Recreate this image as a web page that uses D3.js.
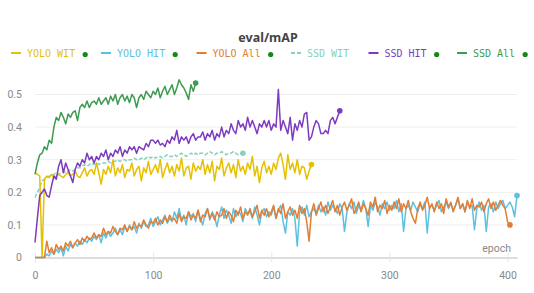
<!DOCTYPE html>
<html>
<head>
<meta charset="utf-8">
<script src="https://cdn.jsdelivr.net/npm/d3@7"></script>
<style>
  html, body { margin: 0; padding: 0; background: #fff; }
  svg { display: block; }
</style>
</head>
<body>
<svg id="chart" width="534" height="293"></svg>
<script>
// ---- data (mAP in percent, one value every EPOCH_STEP epochs starting at epoch 0) ----
const EPOCH_STEP = 2;
const seriesNames = ["YOLO WIT", "YOLO HIT", "YOLO All", "SSD WIT", "SSD HIT", "SSD All"];
const xTickValues = [0, 100, 200, 300, 400];
const yTickValues = [0, 0.1, 0.2, 0.3, 0.4, 0.5];
const yTickLabels = ["0", "0.1", "0.2", "0.3", "0.4", "0.5"];

const yoloWit = [
  26,25.5,25,0,24,25,24.5,25.5,24.5,25,
  25.5,25,24.5,25.5,26,25,25.5,26.5,25,24.5,
  26,27.5,25,26.5,27,25.5,29,26,22.5,27,
  25.5,28,26,30,25,27.5,26,28.5,24.5,27,
  26.5,29,25,27,28,23.5,27.5,26,29.5,25.5,
  27,28.5,26,30,24.5,27,29,26,28,25,
  28.5,26.5,30.5,25,27.5,28,24,29,26.5,28,
  27,30,25.5,28.5,26,29.5,23.5,28,27,30.5,
  25,27.5,29,26,28.5,24.5,30,26.5,28,25.5,
  29,27,31,25,28,23,27.5,29.5,26,28,
  25.5,29,27,30.5,32,28.5,24,31.5,27,29,
  26,30,25.5,28,27.5,24,26.5,28.5
];
const yoloHit = [
  0,0,0,0,0,1,0.5,2,1,2.5,
  1.5,3,0.5,3.5,2,4,3,4.5,3.5,5,
  4,5.5,4.5,6,5,6.5,5.5,7,4.5,7.5,
  6,8,6.5,7.5,9,7,8.5,7,9.5,8,
  10,8.5,9.5,7.5,10.5,9,11,9.5,10,12,
  9.5,11,12.5,10,11.5,13,10.5,12,11,14,
  12,15,11.5,13,10,14,12.5,13.5,11,14.5,
  12,10,13.5,15,11.5,14,12.5,9.5,13,15.5,
  12,14.5,13,10.5,15,12.5,14,13.5,11,15,
  13.5,14,12,15.5,13,10,14,15,12.5,14,
  13,15.5,12,14.5,16,11,7.5,14,13,15,
  12,3.5,14,15.5,13,16,12.5,14,15,13.5,
  16,14,15.5,13,17,14.5,16,15,13.5,16.5,
  15,8,14,16.5,15,17,13.5,16,14.5,17.5,
  15,9.5,16,14.5,17,15.5,13,16.5,15,17,
  14.5,16,15,17.5,14,16.5,8,15,16,14.5,
  17,15.5,14,16.5,15,17,7.5,15.5,16,14.5,
  16,17.5,14,15.5,17,15,16.5,14.5,16,18,
  15,16.5,14,17,15.5,16,8.5,15,17,14.5,
  16,8,15.5,16.5,14,17,15,16.5,17.5,15,
  16,17,15.5,12.5,19
];
const yoloAll = [
  0,0,0,0,0,5,1.5,3,1,4,
  2.5,3.5,2,4.5,3.5,5,3,4.5,5.5,4,
  6,5,6.5,5.5,6,7.5,6,7,6.5,9,
  7,8,7.5,9.5,8,7,9,8.5,10,8,
  9.5,8.5,11,9,10,9.5,11.5,10,9,11,
  10.5,12,10,11.5,10.5,12.5,11,13,11.5,12,
  10.5,13.5,11,12.5,12,14,11.5,13,12,14.5,
  11,13,12.5,15,12,13.5,11.5,14,12.5,13,
  15,12,14,13,11,14.5,13,15.5,12,14,
  13,15,12.5,14,16,12,14.5,13,15,12.5,
  14,16,12,15,13.5,16.5,12,14,15.5,13,
  14.5,12,16,13.5,15,11,5,14,16.5,13,
  15,17,14,16,13.5,15.5,17.5,14,16,13,
  15.5,17,14.5,16,18,13.5,15,17,14,16.5,
  15,13,17,15.5,18.5,14,16,15,17.5,13.5,
  16,14.5,17,15,18,14,16.5,15,17.5,14,
  12,10.5,15,17,14.5,16,18.5,15,16.5,14,
  17,15,16.5,13.5,18,15.5,17,14,16,18.5,
  15,16.5,14,17.5,15,18,14.5,16,15.5,17,
  14,16.5,18,15,17,14.5,16,17.5,16,15,
  11,10
];
const ssdWit = [
  18.4,20,21.5,23.5,24,24.5,25,25,25.5,26,
  25.5,26,26.5,26,26.5,27,26.5,27,27.5,27.5,
  28,28.5,28,28.5,29,28.5,29,28.5,29,29,
  29,29.5,29,29.5,29.5,30,29.5,30,30,29.5,
  30,30,30.5,30,30,30.5,30,30.5,31,30.5,
  31,30.5,31,31,30.5,31,31.5,31,31,31.5,
  31,31.5,32,31.5,31,31.5,32,31.5,32,31.5,
  32,32,31.5,32,32.5,32,31.5,32,32,32.5,
  32,31.5,32,32,32.5,32,31.5,32,32
];
const ssdHit = [
  4.6,12,19,20,21,19,18.5,22,25,24,
  28,30,26,29,27,25,23,27,29,28,
  30,29,32,30,31,29,31,30,32,31,
  33,30,32,31,33,32,34,31,33,32,
  34,33,34,32,34,33.5,33,35,34,36,
  36,35,36,34.5,35,34,36,35,37,36,
  39,35,37,36,37,35,37,38,36,37,
  37,38.5,36,38,37,39,36,38,37,40,
  37,39,38,41,39,38,42,40,41,39,
  43,40,42,40,38,41,40,42,40,42,
  39,41,40,51.5,39,42,40,38,43,36,
  41,39,42,40,44,44.5,36,37,40,42,
  41,38,38,39,38,42,43,41,43,45
];
const ssdAll = [
  25.5,29,31.5,32,34,33,36,35,40,43,
  42,44.5,43,41,44,43,44.5,45,42,46,
  47,46,48,46,47.5,48,47,49,47,48,
  49,47,49.5,48,50,47,49,50,48,49.5,
  47.5,50,49,46,49,50,48.5,51,50,49,
  51,50,52,49,51,52.5,50,51.5,53,50,
  52,54.5,53,52,50.5,48.5,53,51,53.5
];
const seriesValues = [yoloWit, yoloHit, yoloAll, ssdWit, ssdHit, ssdAll];
const seriesColors = ["#e6c000", "#5ec0e0", "#e27d33", "#86d1bc", "#7d3cbf", "#3e9b52"];
const seriesDashed = [false, false, false, true, false, false];
const legendHasDot = [true, true, true, false, true, true];

// ---- chart ----
const svg = d3.select("#chart");
const x = d3.scaleLinear().domain([0, 408]).range([35, 517]);
const y = d3.scaleLinear().domain([0, 0.5]).range([257.5, 94.5]);

// title
svg.append("text")
  .attr("x", 268).attr("y", 42)
  .attr("text-anchor", "middle")
  .attr("font-family", "'Noto Sans', sans-serif")
  .attr("font-size", 12.5).attr("font-weight", "bold")
  .attr("fill", "#444")
  .text("eval/mAP");

// gridlines
svg.append("g").selectAll("line")
  .data(yTickValues.filter(v => v > 0))
  .join("line")
  .attr("x1", x(0)).attr("x2", x(408))
  .attr("y1", d => y(d)).attr("y2", d => y(d))
  .attr("stroke", "#eeeeee").attr("stroke-width", 1);

// x axis
const xAxis = svg.append("g")
  .attr("transform", `translate(0,${y(0)})`)
  .call(d3.axisBottom(x).tickValues(xTickValues).tickSize(0).tickPadding(14).tickFormat(d3.format("d")));
xAxis.select(".domain").attr("stroke", "#dddddd").attr("stroke-width", 2);
xAxis.selectAll(".tick line").attr("y1", -5).attr("y2", 5).attr("stroke", "#e6e6e6");
xAxis.selectAll(".tick text")
  .attr("font-family", "Roboto, sans-serif").attr("font-size", 10.5).attr("fill", "#888");

// y axis labels
const yAxis = svg.append("g")
  .attr("transform", `translate(22,0)`)
  .call(d3.axisLeft(y).tickValues(yTickValues).tickSize(0).tickPadding(0)
    .tickFormat((d, i) => yTickLabels[i]));
yAxis.select(".domain").remove();
yAxis.selectAll(".tick text")
  .attr("font-family", "Roboto, sans-serif").attr("font-size", 10.5).attr("fill", "#888");

// x axis title
svg.append("text")
  .attr("x", 511).attr("y", 252)
  .attr("text-anchor", "end")
  .attr("font-family", "Roboto, sans-serif")
  .attr("font-size", 10.5).attr("fill", "#888")
  .text("epoch");

// lines
const line = d3.line()
  .x((d, i) => x(i * EPOCH_STEP))
  .y(d => y(d / 100));

const drawOrder = [3, 0, 4, 5, 1, 2];
drawOrder.forEach(k => {
  const vals = seriesValues[k];
  svg.append("path")
    .datum(vals)
    .attr("fill", "none")
    .attr("stroke", seriesColors[k])
    .attr("stroke-width", 1.5)
    .attr("stroke-linejoin", "round")
    .attr("stroke-dasharray", seriesDashed[k] ? "4,2" : null)
    .attr("d", line);
  const last = vals.length - 1;
  svg.append("circle")
    .attr("cx", x(last * EPOCH_STEP))
    .attr("cy", y(vals[last] / 100))
    .attr("r", 2.8)
    .attr("fill", seriesColors[k]);
});

// legend
const legendX = [11, 101, 196.5, 291, 368.5, 457];
const legend = svg.append("g");
seriesNames.forEach((name, k) => {
  const g = legend.append("g").attr("transform", `translate(${legendX[k]},54)`);
  g.append("line")
    .attr("x1", 0).attr("x2", 10).attr("y1", -1).attr("y2", -1)
    .attr("stroke", seriesColors[k]).attr("stroke-width", 2)
    .attr("stroke-dasharray", seriesDashed[k] ? "4,2" : null);
  const t = g.append("text")
    .attr("x", 16).attr("y", 3)
    .attr("font-family", "'DejaVu Sans Mono', monospace")
    .attr("font-size", 10)
    .attr("fill", seriesColors[k])
    .text(name);
  if (legendHasDot[k]) {
    const w = t.node().getComputedTextLength();
    g.append("circle")
      .attr("cx", 16 + w + 10).attr("cy", 0.5)
      .attr("r", 2.6).attr("fill", "#138a13");
  }
});
</script>
</body>
</html>
